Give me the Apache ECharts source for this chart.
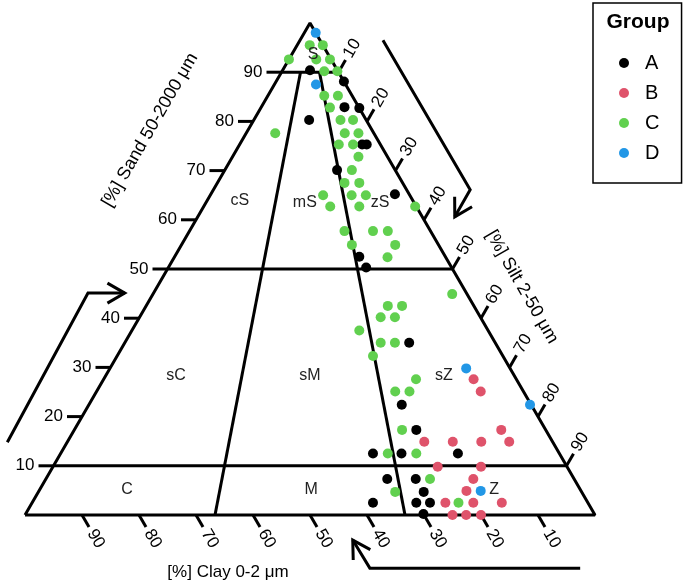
<!DOCTYPE html>
<html><head><meta charset="utf-8">
<script src="https://cdn.jsdelivr.net/npm/echarts@6/dist/echarts.min.js"></script>
<style>html,body{margin:0;padding:0;background:#fff}#c{width:685px;height:584px}</style>
</head><body><div id="c"></div>
<script>
// Each point: [sand, silt, clay] in %
const groupA = [
[90.4,4.8,4.8],[88.1,11.9,0],[82.9,14.6,2.5],[82.7,17.3,0],[80.3,9.7,10],[75.3,21.5,3.2],[75.3,22.3,2.4],
[70.1,19.7,10.2],[65.2,32.3,2.5],[52.5,32.4,15.1],[50.3,34.7,15],[35,49.9,15.1],[22.4,54.9,22.7],[17.3,60,22.7],
[12.5,54.8,32.7],[12.5,59.8,27.7],[12.5,69.7,17.8],[7.3,59.9,32.8],[7.3,64.9,27.8],[4.7,67.6,27.7],
[2.5,59.8,37.7],[2.5,67.4,30.1],[2.5,69.8,27.7],[0.2,69.8,30]
];
const groupB = [
[27.6,64.9,7.5],[25.1,67.4,7.5],[17.3,74.9,7.8],[14.9,62.6,22.5],[14.9,67.6,17.5],[14.9,72.6,12.5],[14.9,77.5,7.6],
[9.8,67.5,22.7],[9.8,75.1,15.1],[7.3,75,17.7],[4.9,75,20.1],[2.5,72.5,25],[2.5,77.4,20.1],[2.5,82.4,15.1],
[0,75,25],[0,77.4,22.6],[0,80,20]
];
const groupC = [
[95.5,2.2,2.3],[95.5,4.5,0],[92.6,0,7.4],[92.6,4.8,2.6],[92.6,7.2,0.2],[90.2,7.4,2.4],[90.2,9.7,0.1],
[85.2,9.9,4.9],[85.2,12.3,2.5],[82.8,12.1,5.1],[80.3,15.2,4.5],[80.3,17.4,2.3],[77.6,5.1,17.3],[77.6,17.3,5.1],
[77.6,19.7,2.7],[75.3,17.4,7.3],[75.3,19.9,4.8],[72.8,22.1,5.1],[70.1,22.3,7.6],[67.5,22.3,10.2],[67.5,24.9,7.6],
[65,19.8,15.2],[65,24.8,10.2],[65,27.3,7.7],[62.7,22.2,15.1],[62.7,27.3,10],[62.7,37.1,0.2],[57.7,27.2,15.1],
[57.7,32.2,10.1],[57.7,34.8,7.5],[54.9,29.9,15.2],[54.9,37.5,7.6],[52.4,37.4,10.2],[44.9,52.5,2.6],[42.5,42.4,15.1],
[42.5,44.9,12.6],[40.2,42.3,17.5],[40.2,44.8,15],[37.5,39.9,22.6],[35,44.9,20.1],[35,47.4,17.6],[32.3,44.9,22.8],
[27.6,54.8,17.6],[25.1,52.4,22.5],[25.1,54.9,20],[17.3,57.5,25.2],[12.5,57.4,30.1],[12.5,62.4,25.1],[7.3,67.4,25.3],
[4.7,62.6,32.7],[2.5,74.8,22.7]
];
const groupD = [[98,2,0],[87.5,7.3,5.2],[29.8,62.5,7.7],[22.4,77.4,0.2],[4.9,77.5,17.6]];

const groupNames = ['A','B','C','D'];
const groupColors = ['#000000','#DF536B','#61D04F','#2297E6'];
const sandTicks = [10,20,30,40,50,60,70,80,90];
const siltTicks = [10,20,30,40,50,60,70,80,90];
const clayTicks = [10,20,30,40,50,60,70,80,90];
const sandBoundaries = [10,50,90];
const clayShares = [2/3,1/3];   // clay/(clay+silt) dividing lines
// class labels: [name, sand, silt, clay]
const classLabels = [
['S',93.5,3.8,2.7],['cS',64,5.7,30.3],['mS',63.4,17.4,19.2],['zS',63.4,30.6,6],
['sC',28.3,12.35,59.35],['sM',28.3,35.85,35.85],['sZ',28.3,59.35,12.35],
['C',5.1,15.35,79.55],['M',5.1,47.65,47.25],['Z',5.1,79.75,15.15]
];
// reading-direction arrows, in plot (x,y) units
const arrows = [
[[62.8,96.5],[78.1,66.1],[75.4,60.6]],
[[-3.1,14.8],[11.05,45.1],[17.5,45.1]],
[[97.4,-10.8],[60.5,-10.8],[57.5,-5.1]]
];

const toXY = (s, z, c) => { const t = s + z + c; s = s*100/t; z = z*100/t; return [z + s/2, s]; };
const FONT = '"Liberation Sans", Arial, sans-serif';
const NARROW = '"Liberation Sans Narrow", "Liberation Sans", Arial, sans-serif';
const black = {color:'#000', width:3};

const series = [];
series.push({type:'line', symbol:'none', silent:true, clip:false, lineStyle:black, z:2,
  data:[toXY(0,0,100), toXY(0,100,0), toXY(100,0,0), toXY(0,0,100)]});
sandBoundaries.forEach(s => series.push({type:'line', symbol:'none', silent:true, clip:false, lineStyle:black, z:2,
  data:[toXY(s,0,100-s), toXY(s,100-s,0)]}));
clayShares.forEach(r => series.push({type:'line', symbol:'none', silent:true, clip:false, lineStyle:black, z:2,
  data:[toXY(0,100*(1-r),100*r), toXY(90,10*(1-r),10*r)]}));

function unit(a, b){ const dx=b[0]-a[0], dy=b[1]-a[1], l=Math.hypot(dx,dy); return [dx/l, dy/l]; }
function tickSeries(kind, ticks){
  return {type:'custom', coordinateSystem:'cartesian2d', silent:true, clip:false, z:3,
    data: ticks.map(v => [v, 0]),
    renderItem(params, api){
      const v = api.value(0);
      const bl = api.coord(toXY(0,0,100)), br = api.coord(toXY(0,100,0)), ap = api.coord(toXY(100,0,0));
      let p, d, rot, align;
      if (kind === 'sand'){ p = api.coord(toXY(v,0,100-v)); d = [-1,0]; rot = 0; align = 'right'; }
      else if (kind === 'silt'){ p = api.coord(toXY(100-v,v,0)); d = unit(bl, ap); rot = Math.atan2(-d[1], d[0]); align = 'left'; }
      else { p = api.coord(toXY(0,100-v,v)); d = unit(ap, br); rot = Math.atan2(-d[1], d[0]); align = 'left'; }
      const L = kind === 'sand' ? 15 : 14, G = 4;
      return {type:'group', children:[
        {type:'line', shape:{x1:p[0], y1:p[1], x2:p[0]+d[0]*L, y2:p[1]+d[1]*L}, style:{stroke:'#000', lineWidth:3}},
        {type:'text', x:p[0]+d[0]*(L+G), y:p[1]+d[1]*(L+G), rotation:rot,
          style:{text:String(v), font:'17px '+FONT, fill:'#000', align:align, verticalAlign:'middle'}}
      ]};
    }};
}
series.push(tickSeries('sand', sandTicks), tickSeries('silt', siltTicks), tickSeries('clay', clayTicks));

series.push({type:'custom', coordinateSystem:'cartesian2d', silent:true, clip:false, z:8,
  data: classLabels.map(l => toXY(l[1], l[2], l[3]).concat([0])),
  renderItem(params, api){
    const p = api.coord([api.value(0), api.value(1)]);
    return {type:'text', x:p[0], y:p[1], style:{text:classLabels[params.dataIndex][0], font:'16px '+FONT, fill:'#222', align:'center', verticalAlign:'middle'}};
  }});

series.push({type:'custom', coordinateSystem:'cartesian2d', silent:true, clip:false, z:3,
  data: arrows.map((a,i) => [a[0][0], a[0][1], i]),
  renderItem(params, api){
    const pts = arrows[params.dataIndex].map(q => api.coord(q));
    const n = pts.length, tip = pts[n-1], prev = pts[n-2];
    const d = unit(tip, prev), A = 20, ang = Math.PI/6;
    const arm = s => [tip[0] + A*(d[0]*Math.cos(s*ang) - d[1]*Math.sin(s*ang)), tip[1] + A*(d[0]*Math.sin(s*ang) + d[1]*Math.cos(s*ang))];
    return {type:'group', children:[
      {type:'polyline', shape:{points:pts}, style:{stroke:'#000', lineWidth:3, fill:null}},
      {type:'polyline', shape:{points:[arm(1), tip, arm(-1)]}, style:{stroke:'#000', lineWidth:3, fill:null}}
    ]};
  }});

[groupA, groupB, groupC, groupD].forEach((g, i) => series.push({
  type:'scatter', name:groupNames[i], symbol:'circle', symbolSize:10, clip:false, z:5,
  itemStyle:{color:groupColors[i], opacity:1}, data:g.map(p => toXY(p[0], p[1], p[2]))
}));

const chart = echarts.init(document.getElementById('c'), null, {renderer:'canvas'});
chart.setOption({
  animation:false,
  grid:{left:25, right:90, top:23, bottom:69},
  xAxis:{type:'value', min:0, max:100, show:false},
  yAxis:{type:'value', min:0, max:100, show:false},
  legend:{data:groupNames, orient:'vertical', left:593, top:3, padding:[50,22,20,26], itemGap:10,
    itemWidth:10, itemHeight:10, icon:'circle', selectedMode:false, formatter:n => '  ' + n,
    textStyle:{fontSize:20, fontFamily:FONT, color:'#000', lineHeight:20},
    borderColor:'#000', borderWidth:1.5, borderRadius:0, backgroundColor:'#fff'},
  graphic:[
    {type:'text', x:638, y:22, z:10, style:{text:'Group', font:'bold 21px '+FONT, fill:'#000', align:'center', verticalAlign:'middle', textAlign:'center', textVerticalAlign:'middle'}},
    {type:'text', x:228, y:572, style:{text:'[%] Clay 0-2 μm', font:'17px '+NARROW, fill:'#000', align:'center', verticalAlign:'middle', textAlign:'center', textVerticalAlign:'middle'}},
    {type:'text', x:150, y:130, rotation:Math.PI/3, style:{text:'[%] Sand 50-2000 μm', font:'18px '+NARROW, fill:'#000', align:'center', verticalAlign:'middle', textAlign:'center', textVerticalAlign:'middle'}},
    {type:'text', x:522, y:287, rotation:-Math.PI/3, style:{text:'[%] Silt 2-50 μm', font:'18px '+NARROW, fill:'#000', align:'center', verticalAlign:'middle', textAlign:'center', textVerticalAlign:'middle'}}
  ],
  series:series
});
</script></body></html>
